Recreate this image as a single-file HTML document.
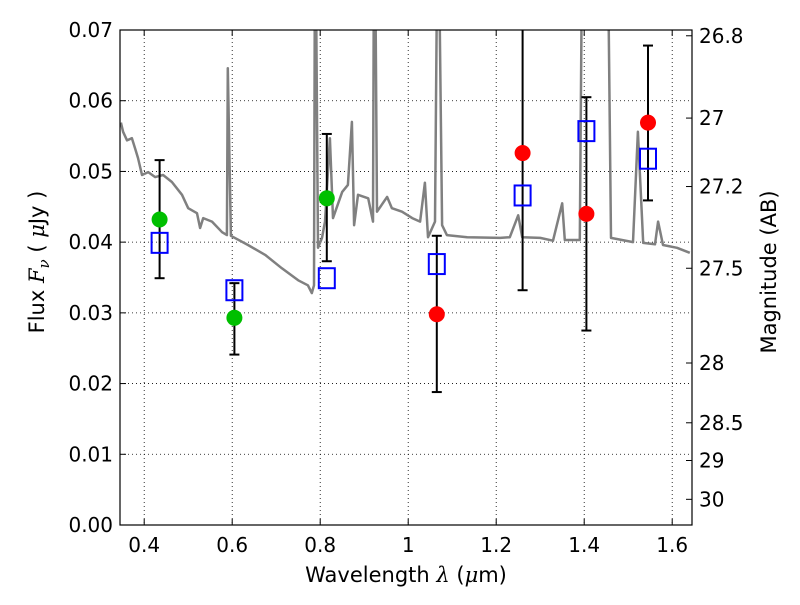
<!DOCTYPE html>
<html><head><meta charset="utf-8"><style>
body{margin:0;background:#fff}
svg text{font-family:"DejaVu Sans","Liberation Sans",sans-serif}
</style></head><body>
<svg id="chart" width="800" height="600" xmlns="http://www.w3.org/2000/svg"></svg>
<script>
// ---- data ----
const specWave=[0.347,0.352,0.361,0.372,0.379,0.386,0.395,0.409,0.425,0.443,0.463,0.486,0.500,0.520,0.527,0.534,0.554,0.577,0.588,0.590,0.597,0.636,0.675,0.713,0.750,0.772,0.781,0.786,0.788,0.790,0.795,0.804,0.811,0.822,0.829,0.850,0.863,0.872,0.877,0.886,0.909,0.920,0.922,0.925,0.929,0.940,0.952,0.963,0.986,1.009,1.027,1.038,1.045,1.061,1.066,1.070,1.077,1.088,1.134,1.209,1.231,1.250,1.259,1.300,1.329,1.350,1.356,1.390,1.395,1.454,1.461,1.511,1.522,1.534,1.561,1.568,1.579,1.611,1.640];
const specFlux=[0.0569,0.0556,0.0544,0.0547,0.0533,0.0519,0.0495,0.0499,0.0492,0.0495,0.0485,0.0467,0.0448,0.0441,0.0420,0.0434,0.0429,0.0414,0.0410,0.0646,0.0409,0.0396,0.0382,0.0363,0.0346,0.0339,0.0328,0.0339,0.08,0.08,0.0392,0.0406,0.0429,0.0547,0.0434,0.0471,0.0481,0.0570,0.0424,0.0467,0.0462,0.0429,0.08,0.08,0.0443,0.0453,0.0464,0.0448,0.0443,0.0434,0.0429,0.0484,0.0407,0.0429,0.08,0.08,0.0424,0.0410,0.0407,0.0406,0.0407,0.0438,0.0407,0.0406,0.0402,0.0455,0.0403,0.0403,0.08,0.08,0.0406,0.0400,0.0556,0.0399,0.0397,0.0429,0.0396,0.0392,0.0385];
const greenWave=[0.435,0.605,0.815];
const greenFlux=[0.0432,0.0293,0.0462];
const redWave=[1.065,1.26,1.405,1.545];
const redFlux=[0.0298,0.0526,0.0440,0.0569];
const errWave=[0.435,0.605,0.815,1.065,1.26,1.405,1.545];
const errLow=[0.0349,0.0241,0.0373,0.0188,0.0332,0.0275,0.0459];
const errHigh=[0.0516,0.0342,0.0553,0.0409,0.0760,0.0605,0.0678];
const modelWave=[0.435,0.605,0.815,1.065,1.26,1.405,1.545];
const modelFlux=[0.0399,0.0332,0.0349,0.0369,0.0466,0.0557,0.0518];
const xTicks=[0.4,0.6,0.8,1.0,1.2,1.4,1.6];
const xTickLabels=["0.4","0.6","0.8","1","1.2","1.4","1.6"];
const yTicks=[0,0.01,0.02,0.03,0.04,0.05,0.06,0.07];
const yTickLabels=["0.00","0.01","0.02","0.03","0.04","0.05","0.06","0.07"];
const magTicks=[26.8,27,27.2,27.5,28,28.5,29,30];
const magTickLabels=["26.8","27","27.2","27.5","28","28.5","29","30"];

// ---- axes ----
const L=120,R=692,T=30,B=525;
const X0=0.345,X1=1.645,Y0=0,Y1=0.07;
const sx=v=>L+(v-X0)/(X1-X0)*(R-L);
const sy=v=>B-(v-Y0)/(Y1-Y0)*(B-T);
const svg=document.getElementById('chart');
const NS='http://www.w3.org/2000/svg';
function mk(tag,attrs,parent){const e=document.createElementNS(NS,tag);for(const k in attrs)e.setAttribute(k,attrs[k]);(parent||svg).appendChild(e);return e;}

const defs=mk('defs',{});
const cp=mk('clipPath',{id:'clip'},defs);
mk('rect',{x:L,y:T,width:R-L,height:B-T},cp);

const grid=mk('g',{});


xTicks.forEach(v=>mk('line',{x1:sx(v),x2:sx(v),y1:T,y2:B,stroke:'#000','stroke-width':0.8,'stroke-dasharray':'1,3'},grid));
yTicks.forEach(v=>mk('line',{x1:L,x2:R,y1:sy(v),y2:sy(v),stroke:'#000','stroke-width':0.8,'stroke-dasharray':'1,3'},grid));

const plot=mk('g',{'clip-path':'url(#clip)'});
let d='';
specWave.forEach((w,i)=>{d+=(i?'L':'M')+sx(w).toFixed(1)+','+sy(specFlux[i]).toFixed(1);});
const sp=mk('path',{d:d,fill:'none',stroke:'#808080','stroke-width':2.5,'stroke-linejoin':'round'},plot);



errWave.forEach((w,i)=>{
  const g=mk('g',{},plot);
  
  
  const x=sx(w),y1=sy(errLow[i]),y2=sy(errHigh[i]);
  mk('line',{x1:x,x2:x,y1:y1,y2:y2,stroke:'#000','stroke-width':2},g);
  mk('line',{x1:x-5,x2:x+5,y1:y1,y2:y1,stroke:'#000','stroke-width':2},g);
  mk('line',{x1:x-5,x2:x+5,y1:y2,y2:y2,stroke:'#000','stroke-width':2},g);
});
greenWave.forEach((w,i)=>{
  const c=mk('circle',{cx:sx(w),cy:sy(greenFlux[i]),r:8,fill:'#00bf00'},plot);
  
  
});
redWave.forEach((w,i)=>{
  const c=mk('circle',{cx:sx(w),cy:sy(redFlux[i]),r:8,fill:'#ff0000'},plot);
  
  
});
modelWave.forEach((w,i)=>{
  const r=mk('rect',{x:sx(w)-8,y:sy(modelFlux[i])-10,width:16,height:20,fill:'none',stroke:'#0000ff','stroke-width':2},plot);
  
  
});

const fr=mk('rect',{x:L,y:T,width:R-L,height:B-T,fill:'none',stroke:'#000','stroke-width':1.2});



xTicks.forEach((v,i)=>{
  mk('line',{x1:sx(v),x2:sx(v),y1:B,y2:B-6,stroke:'#000'});
  mk('line',{x1:sx(v),x2:sx(v),y1:T,y2:T+6,stroke:'#000'});
  const t=mk('text',{x:sx(v),y:B+27,'font-size':20,'text-anchor':'middle'});
  t.textContent=xTickLabels[i];
  
  
});
yTicks.forEach((v,i)=>{
  mk('line',{x1:L,x2:L+6,y1:sy(v),y2:sy(v),stroke:'#000'});
  const t=mk('text',{x:L-7,y:sy(v)+7,'font-size':20,'text-anchor':'end'});
  t.textContent=yTickLabels[i];
  
  
});
magTicks.forEach((m,i)=>{
  const f=Math.pow(10,(23.9-m)/2.5);
  const y=sy(f);
  mk('line',{x1:R,x2:R-6,y1:y,y2:y,stroke:'#000'});
  const t=mk('text',{x:R+7,y:y+7,'font-size':20,'text-anchor':'start'});
  t.textContent=magTickLabels[i];
  
  
});

const xt=mk('text',{x:406,y:582,'font-size':21,'text-anchor':'middle'});
xt.innerHTML='Wavelength  <tspan font-style="italic" font-family="DejaVu Serif,serif">λ</tspan> (<tspan font-style="italic" font-family="DejaVu Serif,serif">μ</tspan>m)';


const yt=mk('text',{x:0,y:0,'font-size':21,'text-anchor':'middle',transform:'translate(44,262) rotate(-90)'});
yt.innerHTML='Flux  <tspan font-style="italic" font-family="DejaVu Serif,serif">F</tspan><tspan font-style="italic" font-family="DejaVu Serif,serif" font-size="15" dy="5">ν</tspan><tspan dy="-5">  ( </tspan><tspan font-style="italic" font-family="DejaVu Serif,serif">μ</tspan>Jy )';


const rt=mk('text',{x:0,y:0,'font-size':21,'text-anchor':'middle',transform:'translate(776,272) rotate(-90)'});
rt.textContent='Magnitude (AB)';


</script>
</body></html>
